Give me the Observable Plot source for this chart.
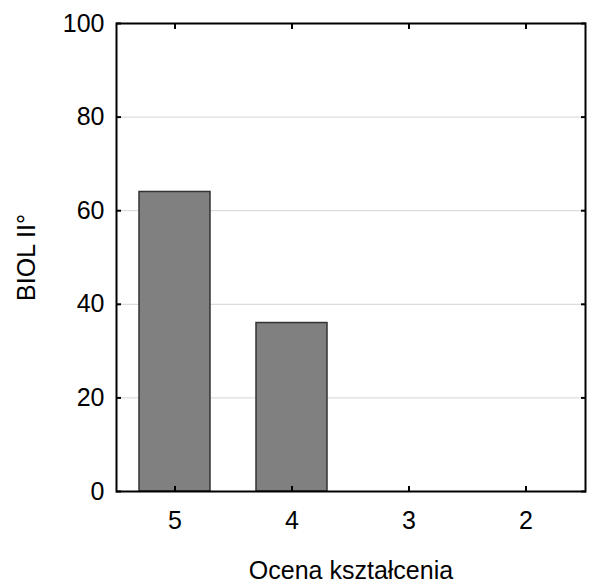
<!DOCTYPE html>
<html>
<head>
<meta charset="utf-8">
<script src="https://cdn.jsdelivr.net/npm/d3@7"></script>
<script src="https://cdn.jsdelivr.net/npm/@observablehq/plot@0.6"></script>
<style>
  html, body { margin: 0; padding: 0; background: #fff; }
</style>
</head>
<body>
<div id="chart"></div>
<script>
const categories = ["5", "4", "3", "2"];
const values = [64, 36, 0, 0];
const yTicks = [0, 20, 40, 60, 80, 100];
const gridTicks = [20, 40, 60, 80];
const xTitle = "Ocena kształcenia";
const yTitle = "BIOL II°";

const data = categories.map((c, i) => ({cat: c, value: values[i]}));

const chart = Plot.plot({
  width: 589,
  height: 587,
  marginLeft: 116,
  marginRight: 4,
  marginTop: 23,
  marginBottom: 96,
  style: {fontFamily: "'Liberation Sans', Arial, sans-serif", fontSize: "25px", background: "#fff", color: "#000"},
  x: {domain: categories, paddingInner: 0.39, paddingOuter: 0.195},
  y: {domain: [0, 100]},
  marks: [
    Plot.gridY(gridTicks, {stroke: "#d4d4d4", strokeOpacity: 1}),
    Plot.barY(data, {x: "cat", y: "value", fill: "#808080", stroke: "#333", strokeWidth: 1.5}),
    Plot.tickY(data.filter(d => d.value === 0), {x: "cat", y: "value", stroke: "#999", strokeWidth: 1}),
    Plot.axisY(yTicks, {anchor: "left", tickSize: -5, tickPadding: 17, strokeWidth: 2, label: yTitle, labelArrow: "none", labelAnchor: "center", labelOffset: 99}),
    Plot.axisY(yTicks, {anchor: "right", tickSize: -5, strokeWidth: 2, fill: "none", label: null}),
    Plot.axisX({anchor: "bottom", tickSize: -5, tickPadding: 25, strokeWidth: 2, label: xTitle, labelArrow: "none", labelAnchor: "center", labelOffset: 87}),
    Plot.axisX({anchor: "top", tickSize: -5, strokeWidth: 2, fill: "none", label: null}),
    Plot.frame({stroke: "#000", strokeWidth: 2})
  ]
});
document.getElementById("chart").appendChild(chart);
</script>
</body>
</html>
